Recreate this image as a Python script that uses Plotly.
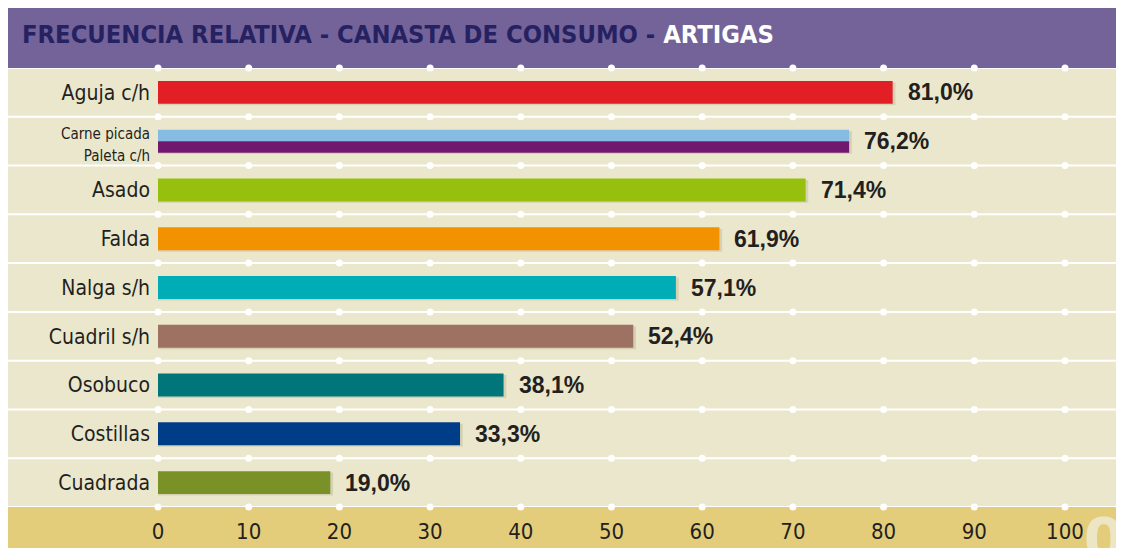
import plotly.graph_objects as go

# ---- data ----
categories = ["Aguja c/h", "Carne picada", "Paleta c/h", "Asado", "Falda",
              "Nalga s/h", "Cuadril s/h", "Osobuco", "Costillas", "Cuadrada"]
values = [81.0, 76.2, 76.2, 71.4, 61.9, 57.1, 52.4, 38.1, 33.3, 19.0]
colors = ["#e31f26", "#86bbe3", "#71176e", "#97bf0d", "#f39200",
          "#00adb7", "#9e7262", "#00767a", "#003d88", "#7a9127"]
# row of each bar (Carne picada and Paleta c/h share one row)
rows = [0, 1, 1, 2, 3, 4, 5, 6, 7, 8]
row_values = [81.0, 76.2, 71.4, 61.9, 57.1, 52.4, 38.1, 33.3, 19.0]
x_ticks = [0, 10, 20, 30, 40, 50, 60, 70, 80, 90, 100]

W, H = 1116, 548
L, R, T, B = 150, 59, 60, 41
pw, ph = W - L - R, H - T - B

BEIGE = "#ebe7cc"
GOLD = "#e3cd7b"
PURPLE = "#736399"
NAVY = "#262262"
LABEL_FONT = "Liberation Sans Narrow, DejaVu Sans Condensed, sans-serif"

fig = go.Figure()

full_w = 0.47
half_w = full_w / 2
n_rows = max(rows) + 1

tick_vals, tick_text = [], []
for i, (c, v, col, r) in enumerate(zip(categories, values, colors, rows)):
    same = [j for j, rr in enumerate(rows) if rr == r]
    if len(same) > 1:
        k = same.index(i)
        width = half_w
        offset = -half_w + k * half_w
        tick_vals.append(r + (k - 0.5) * 0.45 + 0.04)
        tick_text.append(f"<span style='font-size:15px'>{c}</span>")
    else:
        width = full_w
        offset = -full_w / 2
        tick_vals.append(r)
        tick_text.append(c)
    # soft shadow
    fig.add_trace(go.Bar(x=[v + 0.3], y=[r + 0.03], orientation="h", width=[width],
                         offset=[offset],
                         marker=dict(color="rgba(120,110,70,0.18)", line=dict(width=0)),
                         hoverinfo="skip", showlegend=False))
    fig.add_trace(go.Bar(x=[v], y=[r], orientation="h", width=[width], offset=[offset],
                         marker=dict(color=col, line=dict(width=0)), name=c,
                         showlegend=False))

# white dots at grid intersections
bounds = [k - 0.5 for k in range(n_rows + 1)]
dx, dy = [], []
for b in bounds:
    for t in x_ticks:
        dx.append(t)
        dy.append(b)
fig.add_trace(go.Scatter(x=dx, y=dy, mode="markers",
                         marker=dict(color="white", size=7, line=dict(width=0)),
                         hoverinfo="skip", showlegend=False, cliponaxis=False))

# value labels
for r, v in zip(range(n_rows), row_values):
    fig.add_annotation(x=v, y=r, text=f"{v:.1f}%".replace(".", ","), showarrow=False,
                       xanchor="left", yanchor="middle", xshift=13,
                       font=dict(family="Liberation Sans, Arial, sans-serif", size=23,
                                 color="#231f20", weight="bold"))

shapes = []
px = lambda p: (p - L) / pw
py = lambda p: (H - B - p) / ph
# header
shapes.append(dict(type="rect", xref="paper", yref="paper", x0=px(-2), x1=px(W + 2),
                   y0=1, y1=py(-40), fillcolor=PURPLE, line=dict(width=0), layer="below"))
# beige area
shapes.append(dict(type="rect", xref="paper", yref="paper", x0=px(-2), x1=px(W + 2),
                   y0=0, y1=1, fillcolor=BEIGE, line=dict(width=0), layer="below"))
# gold axis band
shapes.append(dict(type="rect", xref="paper", yref="paper", x0=px(-2), x1=px(W + 2),
                   y0=py(H + 40), y1=0, fillcolor=GOLD, line=dict(width=0), layer="below"))
# white row separators
for b in bounds:
    shapes.append(dict(type="line", xref="paper", yref="y", x0=px(-2), x1=px(W + 2),
                       y0=b, y1=b, line=dict(color="white", width=2), layer="below"))

# % watermark (partly cut by the bottom-right edge, as in the original)
fig.add_annotation(xref="paper", yref="paper", x=1.0, y=0, yshift=14, xshift=17,
                   text="<b>%</b>",
                   showarrow=False, xanchor="left", yanchor="top",
                   font=dict(family="Liberation Sans Narrow, Liberation Sans, Arial",
                             size=100, color="#ede6c4"))

fig.update_layout(
    width=W, height=H,
    margin=dict(l=L, r=R, t=T, b=B, pad=0),
    paper_bgcolor="white",
    plot_bgcolor="rgba(0,0,0,0)",
    barmode="overlay",
    shapes=shapes,
    annotations=list(fig.layout.annotations) + [dict(
        xref="paper", yref="paper", x=px(12), y=1, yshift=34,
        xanchor="left", yanchor="middle", showarrow=False,
        text=f"<span style='color:{NAVY}'>FRECUENCIA RELATIVA - CANASTA DE CONSUMO - </span>"
             "<span style='color:white'>ARTIGAS</span>",
        font=dict(family=LABEL_FONT, size=25.3, color=NAVY, weight="bold"),
    )],
    xaxis=dict(range=[0, 100], tickvals=x_ticks, showgrid=False, zeroline=False,
               showline=False, ticks="", ticklabelstandoff=9,
               tickfont=dict(family=LABEL_FONT, size=22, color="#231f20"),
               fixedrange=True),
    yaxis=dict(range=[n_rows - 0.5, -0.5], tickvals=tick_vals, ticktext=tick_text,
               showgrid=False, zeroline=False, showline=False, ticks="",
               ticklabelstandoff=7,
               tickfont=dict(family=LABEL_FONT, size=21, color="#231f20"),
               fixedrange=True),
)

fig.write_html("out.html")
